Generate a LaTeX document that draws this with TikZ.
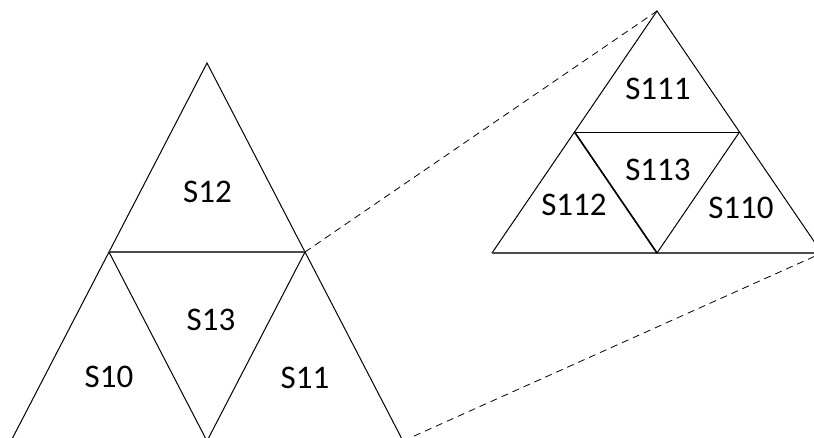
\documentclass[tikz,border=0pt]{standalone}
\usepackage{fontspec}
\setmainfont{Carlito}
\tikzset{
  edge/.style={draw=black, line width=1pt, line join=miter},
  baseline/.style={draw=black!70, line width=1.3pt},
  dashline/.style={draw=black, line width=0.8pt, dash pattern=on 7pt off 5pt},
  lbl/.style={inner sep=0pt, font=\fontsize{33}{38}\selectfont}
}
\begin{document}
\begin{tikzpicture}[x=1pt,y=-1pt]
\useasboundingbox (0,0) rectangle (814,437);
\begin{scope}
\clip (0,0) rectangle (814,437);
% big triangle
\coordinate (A) at (207,63);
\coordinate (BL) at (11,441);
\coordinate (BR) at (403,441);
\coordinate (ML) at (109,252);
\coordinate (MR) at (305,252);
\coordinate (MB) at (207,441);
\draw[edge] (BL) -- (A) -- (BR);
\draw[baseline] (ML) -- (MR);
\draw[edge] (ML) -- (MB) -- (MR);
% small triangle
\coordinate (a) at (657,11);
\coordinate (bl) at (492,253);
\coordinate (br) at (822,253);
\coordinate (ml) at (574.5,132);
\coordinate (mr) at (739.5,132);
\coordinate (mb) at (657,253);
\draw[edge] (bl) -- (a) -- (br);
\draw[baseline] (bl) -- (br);
\draw[edge] (ml) -- (mr);
\draw[edge] (ml) -- (mb) -- (mr);
\draw[line width=1.6pt] (ml) -- (mb);
% dashed connectors
\draw[dashline] (MR) -- (a);
\draw[dashline] (BR) -- (br);
\end{scope}
% labels
\node[lbl] (s12) at (207.5,191.5) {S12};
\node[lbl] (s13) at (211,320) {S13};
\node[lbl] (s10) at (109,376.5) {S10};
\node[lbl] (s11) at (305,378) {S11};
\node[lbl] (s111) at (658,89) {S111};
\node[lbl] (s113) at (658,170) {S113};
\node[lbl] (s112) at (574,205) {S112};
\node[lbl] (s110) at (741,208) {S110};
\end{tikzpicture}
\end{document}
